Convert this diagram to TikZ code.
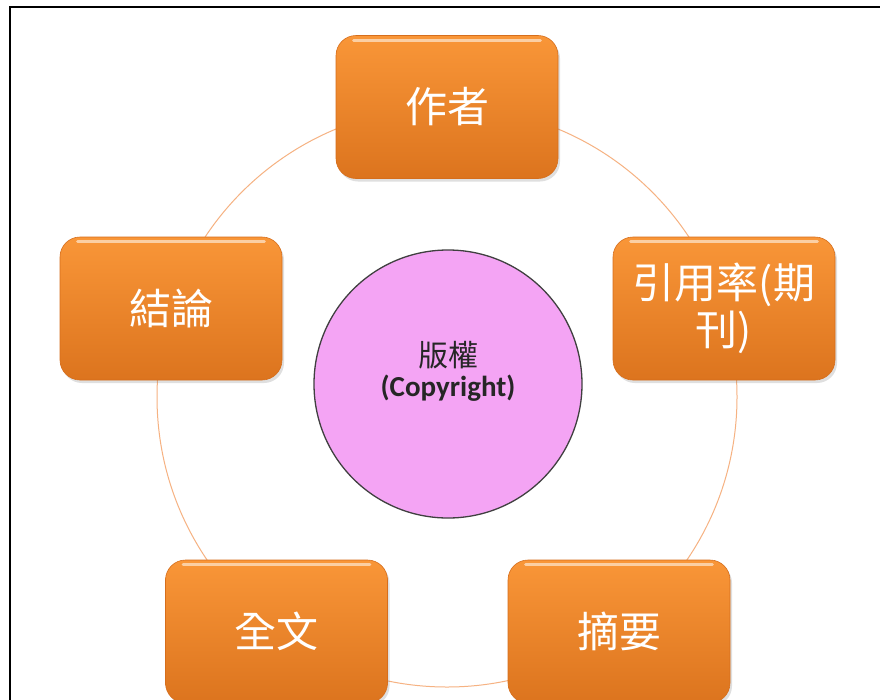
\documentclass[tikz,border=0pt]{standalone}
\usepackage{fontspec}
\setmainfont{Carlito}
\newfontfamily\cjk{Noto Sans CJK TC}
\usetikzlibrary{shadows}
\definecolor{orngT}{RGB}{249,150,56}
\definecolor{orngB}{RGB}{220,116,30}
\definecolor{orngE}{RGB}{214,110,28}
\definecolor{ringc}{RGB}{246,178,130}
\definecolor{pinkc}{RGB}{244,164,244}
\begin{document}
\begin{tikzpicture}[x=1pt,y=-1pt,
  obox/.style={rounded corners=20pt, minimum width=222pt, minimum height=143pt,
    inner sep=0pt, top color=orngT, bottom color=orngB, draw=orngE, line width=0.6pt,
    text=white, font=\cjk\fontsize{42}{47}\selectfont, align=center,
    drop shadow={opacity=0.25, shadow xshift=2pt, shadow yshift=-3pt}},
  hl/.style={white, opacity=0.55, line width=3pt, line cap=round},
  ring/.style={ringc, line width=1pt},
  frame/.style={black, line width=2.5pt}
]
\useasboundingbox (0,0) rectangle (880,699);
\clip (0,0) rectangle (880,699);
\fill[white] (0,0) rectangle (880,699);
\draw[frame] (10,720) -- (10,7) -- (900,7);
\draw[ring] (447,397) circle[radius=290pt];

\node[obox] (zz) at (447,107) {作者};
\node[obox] (yy) at (724,308.5) {引用率(期\\刊)};
\node[obox] (jl) at (171,308.5) {結論};
\node[obox] (qw) at (276.5,631.5) {全文};
\node[obox] (zy) at (619,631.5) {摘要};

\foreach \n in {zz,yy,jl,qw,zy}{
  \draw[hl] ([xshift=18pt,yshift=-5pt]\n.north west) -- ([xshift=-18pt,yshift=-5pt]\n.north east);
}

\node[circle, minimum size=268pt, inner sep=0pt, fill=pinkc, draw=black!75, line width=1.3pt] (cp) at (448,384) {};
\node[font=\cjk\fontsize{30}{34}\selectfont, text=black!85] (t1) at (448,355) {版權};
\node[font=\bfseries\fontsize{29}{34}\selectfont, text=black!85] (t2) at (448,388) {(Copyright)};
\end{tikzpicture}
\end{document}
